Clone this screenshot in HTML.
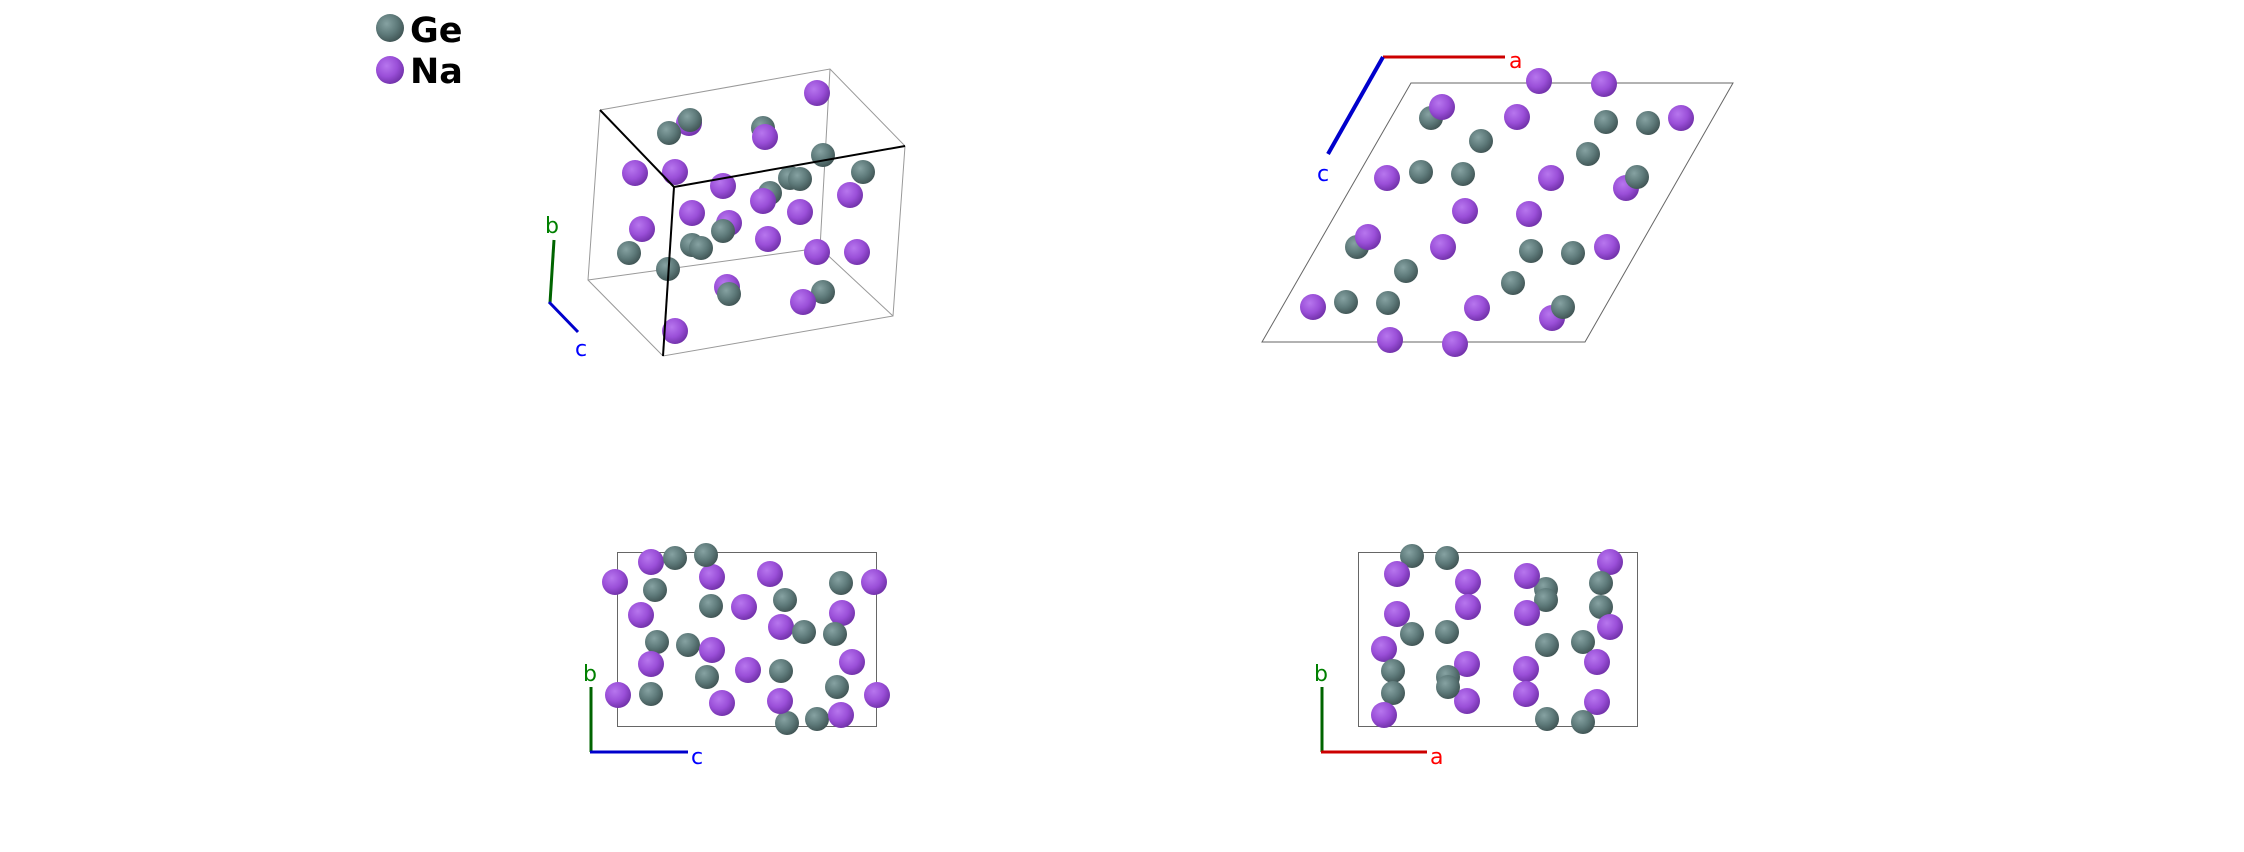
<!DOCTYPE html>
<html><head><meta charset="utf-8"><style>
html,body{margin:0;padding:0;background:#fff;}
svg{display:block;}
text{font-family:"DejaVu Sans","Liberation Sans",sans-serif;}
</style></head><body>
<svg width="2244" height="852" viewBox="0 0 2244 852" xmlns="http://www.w3.org/2000/svg">
<defs>
<radialGradient id="ge" cx="0.38" cy="0.35" r="0.7">
<stop offset="0" stop-color="#86a2a2"/><stop offset="0.55" stop-color="#5e7a7a"/><stop offset="1" stop-color="#3e5252"/></radialGradient>
<radialGradient id="na" cx="0.38" cy="0.35" r="0.7">
<stop offset="0" stop-color="#b776ee"/><stop offset="0.55" stop-color="#9a4fd8"/><stop offset="1" stop-color="#6e2fa6"/></radialGradient>
</defs>
<!-- legend -->
<circle cx="390" cy="28" r="14" fill="url(#ge)"/>
<circle cx="390" cy="70" r="14" fill="url(#na)"/>
<text x="410" y="42" font-size="35" font-weight="bold" fill="#000">Ge</text>
<text x="410" y="83" font-size="35" font-weight="bold" fill="#000">Na</text>

<!-- panel 1 box -->
<g stroke="#999" stroke-width="1" fill="none">
<polyline points="600,110 830,69 905,146"/>
<polyline points="600,110 588,280 663,356 893,316 905,146"/>
<polyline points="830,69 820,248 588,280"/>
<line x1="820" y1="248" x2="893" y2="316"/>
</g>
<g>
<circle cx="689" cy="123" r="13" fill="url(#na)"/>
<circle cx="690" cy="120" r="12" fill="url(#ge)"/>
<circle cx="669" cy="133" r="12" fill="url(#ge)"/>
<circle cx="763" cy="128" r="12" fill="url(#ge)"/>
<circle cx="765" cy="137" r="13" fill="url(#na)"/>
<circle cx="817" cy="93" r="13" fill="url(#na)"/>
<circle cx="823" cy="155" r="12" fill="url(#ge)"/>
<circle cx="863" cy="172" r="12" fill="url(#ge)"/>
<circle cx="635" cy="173" r="13" fill="url(#na)"/>
<circle cx="675" cy="172" r="13" fill="url(#na)"/>
<circle cx="723" cy="186" r="13" fill="url(#na)"/>
<circle cx="790" cy="178" r="12" fill="url(#ge)"/>
<circle cx="800" cy="179" r="12" fill="url(#ge)"/>
<circle cx="770" cy="193" r="12" fill="url(#ge)"/>
<circle cx="763" cy="201" r="13" fill="url(#na)"/>
<circle cx="850" cy="195" r="13" fill="url(#na)"/>
<circle cx="692" cy="213" r="13" fill="url(#na)"/>
<circle cx="800" cy="212" r="13" fill="url(#na)"/>
<circle cx="729" cy="223" r="13" fill="url(#na)"/>
<circle cx="723" cy="231" r="12" fill="url(#ge)"/>
<circle cx="642" cy="229" r="13" fill="url(#na)"/>
<circle cx="692" cy="245" r="12" fill="url(#ge)"/>
<circle cx="701" cy="248" r="12" fill="url(#ge)"/>
<circle cx="768" cy="239" r="13" fill="url(#na)"/>
<circle cx="817" cy="252" r="13" fill="url(#na)"/>
<circle cx="857" cy="252" r="13" fill="url(#na)"/>
<circle cx="629" cy="253" r="12" fill="url(#ge)"/>
<circle cx="668" cy="269" r="12" fill="url(#ge)"/>
<circle cx="727" cy="287" r="13" fill="url(#na)"/>
<circle cx="729" cy="294" r="12" fill="url(#ge)"/>
<circle cx="823" cy="292" r="12" fill="url(#ge)"/>
<circle cx="803" cy="302" r="13" fill="url(#na)"/>
<circle cx="675" cy="331" r="13" fill="url(#na)"/>
</g>
<g stroke="#000" stroke-width="2" fill="none">
<line x1="600" y1="110" x2="674" y2="187"/>
<line x1="674" y1="187" x2="905" y2="146"/>
<line x1="674" y1="187" x2="663" y2="356"/>
</g>
<line x1="550" y1="303" x2="554" y2="240" stroke="#006400" stroke-width="3"/>
<line x1="549" y1="302" x2="578" y2="332" stroke="#0000cc" stroke-width="3"/>
<text x="545" y="233" font-size="22" fill="#008000">b</text>
<text x="575" y="356" font-size="22" fill="#0000ff">c</text>

<!-- panel 2 -->
<polygon points="1411,83 1733,83 1585,342 1262,342" fill="none" stroke="#666" stroke-width="1"/>
<line x1="1383" y1="57" x2="1505" y2="57" stroke="#cc0000" stroke-width="3"/>
<line x1="1383" y1="57" x2="1328" y2="154" stroke="#0000cc" stroke-width="4"/>
<text x="1509" y="68" font-size="22" fill="#ff0000">a</text>
<text x="1317" y="181" font-size="22" fill="#0000ff">c</text>
<g>
<circle cx="1539" cy="81" r="13" fill="url(#na)"/>
<circle cx="1604" cy="84" r="13" fill="url(#na)"/>
<circle cx="1431" cy="118" r="12" fill="url(#ge)"/>
<circle cx="1442" cy="107" r="13" fill="url(#na)"/>
<circle cx="1517" cy="117" r="13" fill="url(#na)"/>
<circle cx="1606" cy="122" r="12" fill="url(#ge)"/>
<circle cx="1648" cy="123" r="12" fill="url(#ge)"/>
<circle cx="1681" cy="118" r="13" fill="url(#na)"/>
<circle cx="1481" cy="141" r="12" fill="url(#ge)"/>
<circle cx="1588" cy="154" r="12" fill="url(#ge)"/>
<circle cx="1387" cy="178" r="13" fill="url(#na)"/>
<circle cx="1421" cy="172" r="12" fill="url(#ge)"/>
<circle cx="1463" cy="174" r="12" fill="url(#ge)"/>
<circle cx="1551" cy="178" r="13" fill="url(#na)"/>
<circle cx="1626" cy="188" r="13" fill="url(#na)"/>
<circle cx="1637" cy="177" r="12" fill="url(#ge)"/>
<circle cx="1465" cy="211" r="13" fill="url(#na)"/>
<circle cx="1529" cy="214" r="13" fill="url(#na)"/>
<circle cx="1357" cy="247" r="12" fill="url(#ge)"/>
<circle cx="1368" cy="237" r="13" fill="url(#na)"/>
<circle cx="1443" cy="247" r="13" fill="url(#na)"/>
<circle cx="1531" cy="251" r="12" fill="url(#ge)"/>
<circle cx="1573" cy="253" r="12" fill="url(#ge)"/>
<circle cx="1607" cy="247" r="13" fill="url(#na)"/>
<circle cx="1406" cy="271" r="12" fill="url(#ge)"/>
<circle cx="1513" cy="283" r="12" fill="url(#ge)"/>
<circle cx="1313" cy="307" r="13" fill="url(#na)"/>
<circle cx="1346" cy="302" r="12" fill="url(#ge)"/>
<circle cx="1388" cy="303" r="12" fill="url(#ge)"/>
<circle cx="1477" cy="308" r="13" fill="url(#na)"/>
<circle cx="1552" cy="318" r="13" fill="url(#na)"/>
<circle cx="1563" cy="307" r="12" fill="url(#ge)"/>
<circle cx="1390" cy="340" r="13" fill="url(#na)"/>
<circle cx="1455" cy="344" r="13" fill="url(#na)"/>
</g>

<!-- panel 3 -->
<rect x="617.5" y="552.5" width="259" height="174" fill="none" stroke="#666" stroke-width="1"/>
<line x1="591" y1="752" x2="591" y2="687" stroke="#006400" stroke-width="3"/>
<line x1="590" y1="752" x2="688" y2="752" stroke="#0000cc" stroke-width="3"/>
<text x="583" y="681" font-size="22" fill="#008000">b</text>
<text x="691" y="764" font-size="22" fill="#0000ff">c</text>
<g>
<circle cx="651" cy="562" r="13" fill="url(#na)"/>
<circle cx="675" cy="558" r="12" fill="url(#ge)"/>
<circle cx="712" cy="577" r="13" fill="url(#na)"/>
<circle cx="706" cy="555" r="12" fill="url(#ge)"/>
<circle cx="615" cy="582" r="13" fill="url(#na)"/>
<circle cx="655" cy="590" r="12" fill="url(#ge)"/>
<circle cx="770" cy="574" r="13" fill="url(#na)"/>
<circle cx="841" cy="583" r="12" fill="url(#ge)"/>
<circle cx="874" cy="582" r="13" fill="url(#na)"/>
<circle cx="711" cy="606" r="12" fill="url(#ge)"/>
<circle cx="744" cy="607" r="13" fill="url(#na)"/>
<circle cx="785" cy="600" r="12" fill="url(#ge)"/>
<circle cx="641" cy="615" r="13" fill="url(#na)"/>
<circle cx="842" cy="613" r="13" fill="url(#na)"/>
<circle cx="781" cy="627" r="13" fill="url(#na)"/>
<circle cx="804" cy="632" r="12" fill="url(#ge)"/>
<circle cx="835" cy="634" r="12" fill="url(#ge)"/>
<circle cx="657" cy="642" r="12" fill="url(#ge)"/>
<circle cx="688" cy="645" r="12" fill="url(#ge)"/>
<circle cx="712" cy="650" r="13" fill="url(#na)"/>
<circle cx="651" cy="664" r="13" fill="url(#na)"/>
<circle cx="852" cy="662" r="13" fill="url(#na)"/>
<circle cx="707" cy="677" r="12" fill="url(#ge)"/>
<circle cx="748" cy="670" r="13" fill="url(#na)"/>
<circle cx="781" cy="671" r="12" fill="url(#ge)"/>
<circle cx="837" cy="687" r="12" fill="url(#ge)"/>
<circle cx="618" cy="695" r="13" fill="url(#na)"/>
<circle cx="651" cy="694" r="12" fill="url(#ge)"/>
<circle cx="877" cy="695" r="13" fill="url(#na)"/>
<circle cx="722" cy="703" r="13" fill="url(#na)"/>
<circle cx="787" cy="723" r="12" fill="url(#ge)"/>
<circle cx="780" cy="701" r="13" fill="url(#na)"/>
<circle cx="817" cy="719" r="12" fill="url(#ge)"/>
<circle cx="841" cy="715" r="13" fill="url(#na)"/>
</g>

<!-- panel 4 -->
<rect x="1358.5" y="552.5" width="279" height="174" fill="none" stroke="#666" stroke-width="1"/>
<line x1="1322" y1="752" x2="1322" y2="687" stroke="#006400" stroke-width="3"/>
<line x1="1321" y1="752" x2="1427" y2="752" stroke="#cc0000" stroke-width="3"/>
<text x="1314" y="681" font-size="22" fill="#008000">b</text>
<text x="1430" y="764" font-size="22" fill="#ff0000">a</text>
<g>
<circle cx="1412" cy="556" r="12" fill="url(#ge)"/>
<circle cx="1447" cy="558" r="12" fill="url(#ge)"/>
<circle cx="1397" cy="574" r="13" fill="url(#na)"/>
<circle cx="1468" cy="582" r="13" fill="url(#na)"/>
<circle cx="1546" cy="589" r="12" fill="url(#ge)"/>
<circle cx="1527" cy="576" r="13" fill="url(#na)"/>
<circle cx="1546" cy="600" r="12" fill="url(#ge)"/>
<circle cx="1610" cy="562" r="13" fill="url(#na)"/>
<circle cx="1601" cy="583" r="12" fill="url(#ge)"/>
<circle cx="1601" cy="607" r="12" fill="url(#ge)"/>
<circle cx="1468" cy="607" r="13" fill="url(#na)"/>
<circle cx="1397" cy="614" r="13" fill="url(#na)"/>
<circle cx="1527" cy="613" r="13" fill="url(#na)"/>
<circle cx="1610" cy="627" r="13" fill="url(#na)"/>
<circle cx="1412" cy="634" r="12" fill="url(#ge)"/>
<circle cx="1447" cy="632" r="12" fill="url(#ge)"/>
<circle cx="1547" cy="645" r="12" fill="url(#ge)"/>
<circle cx="1583" cy="642" r="12" fill="url(#ge)"/>
<circle cx="1384" cy="649" r="13" fill="url(#na)"/>
<circle cx="1597" cy="662" r="13" fill="url(#na)"/>
<circle cx="1467" cy="664" r="13" fill="url(#na)"/>
<circle cx="1448" cy="677" r="12" fill="url(#ge)"/>
<circle cx="1393" cy="671" r="12" fill="url(#ge)"/>
<circle cx="1526" cy="669" r="13" fill="url(#na)"/>
<circle cx="1467" cy="701" r="13" fill="url(#na)"/>
<circle cx="1448" cy="687" r="12" fill="url(#ge)"/>
<circle cx="1393" cy="693" r="12" fill="url(#ge)"/>
<circle cx="1526" cy="694" r="13" fill="url(#na)"/>
<circle cx="1597" cy="702" r="13" fill="url(#na)"/>
<circle cx="1384" cy="715" r="13" fill="url(#na)"/>
<circle cx="1547" cy="719" r="12" fill="url(#ge)"/>
<circle cx="1583" cy="722" r="12" fill="url(#ge)"/>
</g>
</svg>
</body></html>
